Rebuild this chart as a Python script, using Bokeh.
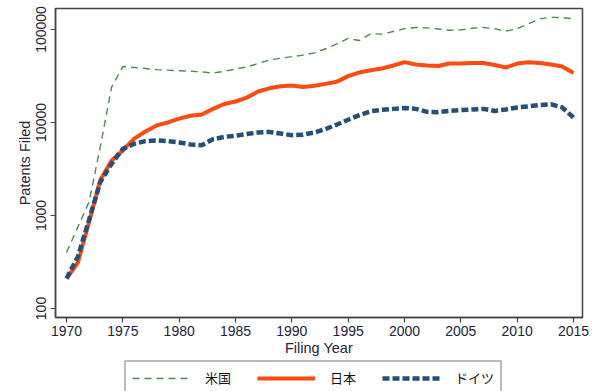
from bokeh.plotting import figure
from bokeh.layouts import column
from bokeh.models import FixedTicker, PrintfTickFormatter, Legend, LegendItem, Range1d
from bokeh.embed import file_html
from bokeh.resources import INLINE

years = list(range(1970, 2016))
us = [400, 750, 1400, 5500, 24000, 40000, 39000, 38000, 37000, 36500,
      36000, 35500, 35000, 34000, 35500, 37500, 39500, 43000, 47000, 49000,
      51000, 53000, 56000, 62000, 70000, 80000, 76000, 90000, 89000, 95000,
      102000, 105000, 104000, 101000, 98000, 99000, 103000, 105000, 102000, 96000,
      102000, 115000, 130000, 135000, 134000, 130000]
japan = [210, 310, 850, 2400, 3900, 5000, 6700, 8000, 9300, 10000,
         11000, 11800, 12200, 14000, 15800, 16800, 18500, 21500, 23300, 24500,
         25000, 24000, 24800, 26000, 27500, 31500, 34500, 36500, 38000, 41000,
         44500, 42000, 41000, 40500, 43000, 43000, 43500, 43500, 41500, 39000,
         43000, 44500, 43500, 42000, 40000, 34000]
germany = [210, 360, 900, 2300, 3600, 5200, 5900, 6300, 6400, 6300,
           6100, 5800, 5700, 6600, 7000, 7200, 7500, 7800, 7900, 7600,
           7300, 7400, 7800, 8500, 9500, 10700, 12000, 13200, 13700, 14000,
           14300, 14000, 13000, 12900, 13300, 13600, 13800, 14000, 13300, 13800,
           14500, 14900, 15400, 15700, 14500, 11300]
x_ticks = [1970, 1975, 1980, 1985, 1990, 1995, 2000, 2005, 2010, 2015]
y_ticks = [100, 1000, 10000, 100000]
names = ["米国", "日本", "ドイツ"]

FONT = "Liberation Sans"
TXT = "#23233a"
STYLES = [dict(line_color="#4f8a4f", line_width=1.4, line_dash="7 5"),
          dict(line_color="#ff4a12", line_width=4),
          dict(line_color="#264f78", line_width=4.5, line_dash="7 3")]

p = figure(width=593, height=360, y_axis_type="log", output_backend="svg",
           toolbar_location=None, min_border_left=55, min_border_right=11,
           min_border_top=8, min_border_bottom=43)
p.x_range = Range1d(1969.02, 2015.8)
p.y_range = Range1d(80, 168000)

for series, st in zip([us, japan, germany], STYLES):
    p.line(years, series, **st)

p.grid.visible = False
p.outline_line_color = "#444444"
p.outline_line_width = 1.5
p.background_fill_color = "white"
p.border_fill_color = "white"

p.xaxis.ticker = FixedTicker(ticks=x_ticks)
p.xaxis.minor_tick_line_color = None
p.xaxis.major_tick_out = 5
p.xaxis.major_tick_in = 0
p.xaxis.major_label_standoff = 3
p.xaxis.axis_label = "Filing Year"
p.xaxis.axis_label_standoff = 1

p.yaxis.ticker = FixedTicker(ticks=y_ticks, minor_ticks=[])
p.yaxis.formatter = PrintfTickFormatter(format="%d")
p.yaxis.minor_tick_line_color = None
p.yaxis.major_tick_out = 5
p.yaxis.major_tick_in = 0
p.yaxis.major_label_orientation = "vertical"
p.yaxis.major_label_standoff = 4
p.yaxis.axis_label = "Patents Filed"
p.yaxis.axis_label_standoff = 1

for ax in (p.xaxis[0], p.yaxis[0]):
    ax.axis_line_color = "#444444"
    ax.axis_line_width = 1.5
    ax.major_tick_line_color = "#444444"
    ax.major_tick_line_width = 1.2
    ax.major_label_text_font = FONT
    ax.major_label_text_font_size = "14px"
    ax.major_label_text_color = TXT
    ax.axis_label_text_font = FONT
    ax.axis_label_text_font_size = "14.5px"
    ax.axis_label_text_font_style = "normal"
    ax.axis_label_text_color = TXT

# legend strip below the chart (its frame is aligned with the chart's frame)
q = figure(width=593, height=31, output_backend="svg", toolbar_location=None,
           x_axis_location=None, y_axis_location=None,
           min_border_left=0, min_border_right=0, min_border_top=0, min_border_bottom=0)
q.outline_line_color = None
q.grid.visible = False
q.background_fill_color = "white"
q.border_fill_color = "white"
items = []
for name, series, st in zip(names, [us, japan, germany], STYLES):
    r = q.line(years, series, visible=False, **st)
    items.append(LegendItem(label=name, renderers=[r]))

legend = Legend(items=items, orientation="horizontal", location=(69, -4))
legend.label_text_font = "Noto Sans CJK JP"
legend.label_text_font_size = "13px"
legend.label_text_color = "#111111"
legend.glyph_width = 58
legend.glyph_height = 16
legend.label_standoff = 15
legend.label_width = 30
legend.spacing = 22
legend.padding = 6
legend.margin = 0
legend.border_line_color = "#777777"
legend.border_line_width = 2
legend.background_fill_alpha = 1
q.add_layout(legend, "center")

layout = column(p, q, spacing=0)
open("out.html", "w").write(file_html(layout, INLINE))
